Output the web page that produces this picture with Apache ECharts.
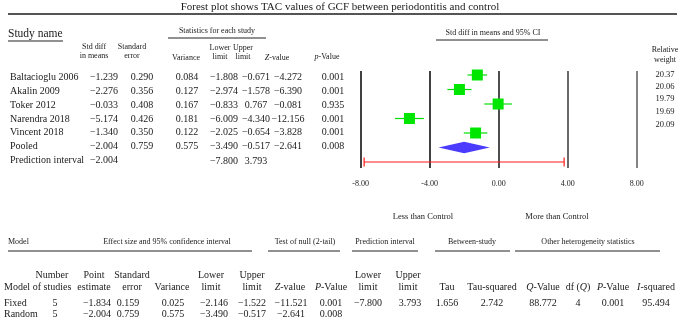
<!DOCTYPE html>
<html><head><meta charset="utf-8">
<script src="https://cdn.jsdelivr.net/npm/echarts@6/dist/echarts.min.js"></script>
<style>html,body{margin:0;padding:0;background:#fff}#c{width:678px;height:318px}</style>
</head><body><div id="c"></div>
<script>
// ---------- data ----------
const titleText = "Forest plot shows TAC values of GCF between periodontitis and control";
const studies   = ["Baltacioglu 2006","Akalin 2009","Toker 2012","Narendra 2018","Vincent 2018"];
const stdDiff   = [-1.239,-2.276,-0.033,-5.174,-1.340];
const stdErr    = [0.290,0.356,0.408,0.426,0.350];
const variance  = [0.084,0.127,0.167,0.181,0.122];
const lowerLim  = [-1.808,-2.974,-0.833,-6.009,-2.025];
const upperLim  = [-0.671,-1.578,0.767,-4.340,-0.654];
const zValues   = [-4.272,-6.390,-0.081,-12.156,-3.828];
const pValues   = [0.001,0.001,0.935,0.001,0.001];
const relWeight = [20.37,20.06,19.79,19.69,20.09];
// pooled: est, se, var, lower, upper, z, p
const pooledStats = [-2.004,0.759,0.575,-3.490,-0.517,-2.641,0.008];
// prediction interval: est, lower, upper
const predInterval = [-2.004,-7.800,3.793];
const xTicks = [-8,-4,0,4,8];
// bottom table
const models     = ["Fixed","Random"];
const nStudies   = [5,5];
const pointEst   = [-1.834,-2.004];
const modelSE    = [0.159,0.759];
const modelVar   = [0.025,0.575];
const modelLower = [-2.146,-3.490];
const modelUpper = [-1.522,-0.517];
const modelZ     = [-11.521,-2.641];
const modelP     = [0.001,0.008];
const piLimits   = [-7.800,3.793];
const hetStats   = [1.656,2.742,88.772,4,0.001,95.494]; // tau, tau^2, Q, df, p, I^2

// ---------- helpers ----------
const SERIF = '"Liberation Serif","DejaVu Serif",serif';
const fmt = (v,d=3) => (v<0?'\u2212':'') + Math.abs(v).toFixed(d);
const G = [];
function txt(t,x,y,size,opt={}){
  G.push({type:'text',x:x,y:y,silent:true,style:{
    text:t, fill:opt.color||'#1a1a1a',
    font:(opt.weight||'normal')+' '+size+'px '+SERIF,
    textAlign:opt.align||'center', align:opt.align||'center',
    textVerticalAlign:'middle', verticalAlign:'middle',
    rich:{i:{fontStyle:'italic',fontSize:size,fontFamily:SERIF,fill:opt.color||'#1a1a1a'}}
  }});
}
function hline(x1,x2,y,w,c){
  G.push({type:'line',silent:true,shape:{x1:x1,y1:y,x2:x2,y2:y},style:{stroke:c||'#222',lineWidth:w||1}});
}

// ---------- top texts ----------
txt(titleText,340,7,11);
hline(8,677,14,2,'#555');
txt('Study name',8,34,11.5,{align:'left'});
hline(8,63,41,1);
txt('Statistics for each study',217,31,8);
hline(168,266,38,1);

const hdrSize = 8;
txt('Std diff',94,47,hdrSize); txt('in means',94,56,hdrSize);
txt('Standard',132,47,hdrSize); txt('error',132,56,hdrSize);
txt('Variance',186,58,hdrSize);
txt('Lower',220,48,hdrSize); txt('limit',220,57,hdrSize);
txt('Upper',243,48,hdrSize); txt('limit',243,57,hdrSize);
txt('{i|Z}-value',277,58,hdrSize);
txt('{i|p}-Value',327,57,hdrSize);

txt('Std diff in means and 95% CI',493,33,8);
hline(436,548,40,1);
txt('Relative',665,50,8); txt('weight',665,60,8);

const rowTextY = [77,91,105,119,132.5,146.5,160.5];
const colX = {sd:104,se:142,vr:187,lo:224,up:256,z:288,p:333};
const dataSize = 10;
studies.forEach((s,i)=>{
  const y = rowTextY[i];
  txt(s,10,y,dataSize,{align:'left'});
  txt(fmt(stdDiff[i]),colX.sd,y,dataSize);
  txt(fmt(stdErr[i]),colX.se,y,dataSize);
  txt(fmt(variance[i]),colX.vr,y,dataSize);
  txt(fmt(lowerLim[i]),colX.lo,y,dataSize);
  txt(fmt(upperLim[i]),colX.up,y,dataSize);
  txt(fmt(zValues[i]),colX.z,y,dataSize);
  txt(fmt(pValues[i]),colX.p,y,dataSize);
});
{
  const y = rowTextY[5];
  txt('Pooled',10,y,dataSize,{align:'left'});
  txt(fmt(pooledStats[0]),colX.sd,y,dataSize);
  txt(fmt(pooledStats[1]),colX.se,y,dataSize);
  txt(fmt(pooledStats[2]),colX.vr,y,dataSize);
  txt(fmt(pooledStats[3]),colX.lo,y,dataSize);
  txt(fmt(pooledStats[4]),colX.up,y,dataSize);
  txt(fmt(pooledStats[5]),colX.z,y,dataSize);
  txt(fmt(pooledStats[6]),colX.p,y,dataSize);
  const y2 = rowTextY[6];
  txt('Prediction interval',10,y2,dataSize,{align:'left'});
  txt(fmt(predInterval[0]),colX.sd,y2,dataSize);
  txt(fmt(predInterval[1]),colX.lo,y2+1,dataSize);
  txt(fmt(predInterval[2]),colX.up,y2+1,dataSize);
}
const wY = [75,87,98.5,111.5,125];
relWeight.forEach((w,i)=>txt(w.toFixed(2),665,wY[i],8.5));

txt('Less than Control',423,217,8.5);
txt('More than Control',557,217,8.5);

// ---------- bottom table ----------
txt('Model',8,242,8,{align:'left'});
txt('Effect size and 95% confidence interval',167,242,8); hline(8,252,251,1);
txt('Test of null (2-tail)',305,242,8); hline(268,340,251,1);
txt('Prediction interval',385,242,8); hline(352,418,251,1);
txt('Between-study',472,242,8); hline(435,510,251,1);
txt('Other heterogeneity statistics',588,242,8); hline(515,660,251,1);

const bh = 10, r1 = 275, r2 = 287;
txt('Model',4,r2,bh,{align:'left'});
txt('Number',52,r1,bh); txt('of studies',52,r2,bh);
txt('Point',94,r1,bh); txt('estimate',94,r2,bh);
txt('Standard',132,r1,bh); txt('error',132,r2,bh);
txt('Variance',172,r2,bh);
txt('Lower',211,r1,bh); txt('limit',211,r2,bh);
txt('Upper',252,r1,bh); txt('limit',252,r2,bh);
txt('{i|Z}-value',290,r2,bh);
txt('{i|P}-Value',331,r2,bh);
txt('Lower',368,r1,bh); txt('limit',368,r2,bh);
txt('Upper',408,r1,bh); txt('limit',408,r2,bh);
txt('Tau',447,r2,bh);
txt('Tau-squared',492,r2,bh);
txt('{i|Q}-Value',543,r2,bh);
txt('df ({i|Q})',578,r2,bh);
txt('{i|P}-Value',613,r2,bh);
txt('{i|I}-squared',656,r2,bh);

const bY = [303,314];
models.forEach((m,i)=>{
  const y = bY[i];
  txt(m,4,y,bh,{align:'left'});
  txt(String(nStudies[i]),55,y,bh);
  txt(fmt(pointEst[i]),97,y,bh);
  txt(fmt(modelSE[i]),128,y,bh);
  txt(fmt(modelVar[i]),173,y,bh);
  txt(fmt(modelLower[i]),214,y,bh);
  txt(fmt(modelUpper[i]),252,y,bh);
  txt(fmt(modelZ[i]),291,y,bh);
  txt(fmt(modelP[i]),331,y,bh);
});
txt(fmt(piLimits[0]),368,bY[0],bh);
txt(fmt(piLimits[1]),410,bY[0],bh);
txt(fmt(hetStats[0]),447,bY[0],bh);
txt(fmt(hetStats[1]),492,bY[0],bh);
txt(fmt(hetStats[2]),543,bY[0],bh);
txt(String(hetStats[3]),578,bY[0],bh);
txt(fmt(hetStats[4]),613,bY[0],bh);
txt(fmt(hetStats[5]),656,bY[0],bh);

// ---------- chart ----------
const chart = echarts.init(document.getElementById('c'),null,{renderer:'canvas'});
const studyData = studies.map((s,i)=>[stdDiff[i],lowerLim[i],upperLim[i],i]);
chart.setOption({
  animation:false,
  backgroundColor:'#fff',
  grid:{left:360.7,right:41.3,top:71,bottom:150,containLabel:false},
  xAxis:{type:'value',min:xTicks[0],max:xTicks[xTicks.length-1],interval:4,
    axisLine:{show:false},axisTick:{show:false},
    splitLine:{show:true,lineStyle:{color:['#111','#111','#222','#444','#666'],width:1.6}},
    axisLabel:{margin:12,color:'#222',fontSize:8,fontFamily:SERIF,
      formatter:v=>v.toFixed(2)}},
  yAxis:{type:'value',inverse:true,min:-0.276,max:6.414,show:false,splitLine:{show:false}},
  series:[
    {type:'custom',name:'studies',data:studyData,encode:{x:[0,1,2],y:3},
     renderItem:(params,api)=>{
       const c = api.coord([api.value(0),api.value(3)]);
       const l = api.coord([api.value(1),api.value(3)]);
       const u = api.coord([api.value(2),api.value(3)]);
       const h = 11;
       return {type:'group',children:[
         {type:'line',shape:{x1:l[0],y1:c[1],x2:u[0],y2:c[1]},style:{stroke:'#00e000',lineWidth:1.2}},
         {type:'rect',shape:{x:c[0]-h/2,y:c[1]-h/2,width:h,height:h},style:{fill:'#00e600'}}
       ]};
     }},
    {type:'custom',name:'pooled',data:[[pooledStats[0],pooledStats[3],pooledStats[4],5]],encode:{x:[0,1,2],y:3},
     renderItem:(params,api)=>{
       const c = api.coord([api.value(0),api.value(3)]);
       const l = api.coord([api.value(1),api.value(3)]);
       const u = api.coord([api.value(2),api.value(3)]);
       const h = 5.8;
       return {type:'polygon',shape:{points:[[l[0],c[1]],[c[0],c[1]-h],[u[0],c[1]],[c[0],c[1]+h]]},
         style:{fill:'#4b3bff'}};
     }},
    {type:'custom',name:'prediction',data:[[predInterval[1],predInterval[2],6]],encode:{x:[0,1],y:2},
     renderItem:(params,api)=>{
       const l = api.coord([api.value(0),api.value(2)]);
       const u = api.coord([api.value(1),api.value(2)]);
       const h = 4.5;
       return {type:'group',children:[
         {type:'line',shape:{x1:l[0],y1:l[1],x2:u[0],y2:l[1]},style:{stroke:'#ff1a1a',lineWidth:1.2}},
         {type:'line',shape:{x1:l[0],y1:l[1]-h,x2:l[0],y2:l[1]+h},style:{stroke:'#ff1a1a',lineWidth:1.2}},
         {type:'line',shape:{x1:u[0],y1:u[1]-h,x2:u[0],y2:u[1]+h},style:{stroke:'#ff1a1a',lineWidth:1.2}}
       ]};
     }}
  ],
  graphic:{elements:G}
});
</script></body></html>
